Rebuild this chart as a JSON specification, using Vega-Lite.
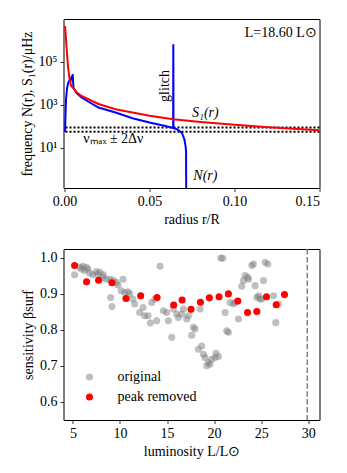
{
  "$schema": "https://vega.github.io/schema/vega-lite/v6.json",
  "padding": {"left": 19.5, "top": 18, "right": 5, "bottom": 5},
  "background": "white",
  "config": {
    "font": "Liberation Serif",
    "view": {"stroke": "black", "strokeWidth": 1},
    "axis": {
      "domain": false, "grid": false, "ticks": true, "tickColor": "black", "tickSize": 3.5, "tickWidth": 0.8,
      "labelColor": "black", "titleColor": "black", "labelFontSize": 14, "titleFontSize": 14,
      "titleFontWeight": "normal", "labelPadding": 3, "labelFont": "Liberation Serif", "titleFont": "Liberation Serif"
    },
    "legend": {"labelFont": "Liberation Serif", "labelFontSize": 14, "labelColor": "black"}
  },
  "datasets": {
    "freq": [
      {"curve": "N", "i": 1, "r": 0.0003, "v": 55},
      {"curve": "N", "i": 2, "r": 0.0006, "v": 400},
      {"curve": "N", "i": 3, "r": 0.0009, "v": 1900},
      {"curve": "N", "i": 4, "r": 0.0015, "v": 6000},
      {"curve": "N", "i": 5, "r": 0.0022, "v": 11000},
      {"curve": "N", "i": 6, "r": 0.0038, "v": 18000},
      {"curve": "N", "i": 7, "r": 0.0043, "v": 15000},
      {"curve": "N", "i": 8, "r": 0.0048, "v": 27000},
      {"curve": "N", "i": 9, "r": 0.0053, "v": 6000},
      {"curve": "N", "i": 10, "r": 0.007, "v": 3600},
      {"curve": "N", "i": 11, "r": 0.01, "v": 2200},
      {"curve": "N", "i": 12, "r": 0.02, "v": 750},
      {"curve": "N", "i": 13, "r": 0.03, "v": 440},
      {"curve": "N", "i": 14, "r": 0.04, "v": 240},
      {"curve": "N", "i": 15, "r": 0.05, "v": 150},
      {"curve": "N", "i": 16, "r": 0.06, "v": 100},
      {"curve": "N", "i": 17, "r": 0.0639, "v": 84},
      {"curve": "N", "i": 18, "r": 0.064, "v": 660000},
      {"curve": "N", "i": 19, "r": 0.0641, "v": 82},
      {"curve": "N", "i": 20, "r": 0.066, "v": 74},
      {"curve": "N", "i": 21, "r": 0.069, "v": 51},
      {"curve": "N", "i": 22, "r": 0.0705, "v": 25},
      {"curve": "N", "i": 23, "r": 0.0712, "v": 12},
      {"curve": "N", "i": 24, "r": 0.0715, "v": 7},
      {"curve": "N", "i": 25, "r": 0.0716, "v": 0.05},
      {"curve": "S1", "i": 1, "r": 0.0003, "v": 4700000},
      {"curve": "S1", "i": 2, "r": 0.0013, "v": 390000},
      {"curve": "S1", "i": 3, "r": 0.002, "v": 65000},
      {"curve": "S1", "i": 4, "r": 0.0028, "v": 20000},
      {"curve": "S1", "i": 5, "r": 0.0038, "v": 8000},
      {"curve": "S1", "i": 6, "r": 0.005, "v": 6300},
      {"curve": "S1", "i": 7, "r": 0.007, "v": 4000},
      {"curve": "S1", "i": 8, "r": 0.01, "v": 2600},
      {"curve": "S1", "i": 9, "r": 0.02, "v": 1100},
      {"curve": "S1", "i": 10, "r": 0.03, "v": 630},
      {"curve": "S1", "i": 11, "r": 0.04, "v": 440},
      {"curve": "S1", "i": 12, "r": 0.05, "v": 310},
      {"curve": "S1", "i": 13, "r": 0.064, "v": 215},
      {"curve": "S1", "i": 14, "r": 0.08, "v": 160},
      {"curve": "S1", "i": 15, "r": 0.1, "v": 117},
      {"curve": "S1", "i": 16, "r": 0.12, "v": 90},
      {"curve": "S1", "i": 17, "r": 0.15, "v": 66}
    ],
    "numax": [{"bound": "upper", "v": 88}, {"bound": "lower", "v": 56}],
    "sens": [
      {"series": "original", "L": 5.18, "beta": 0.953},
      {"series": "original", "L": 5.74, "beta": 0.974},
      {"series": "original", "L": 5.92, "beta": 0.969},
      {"series": "original", "L": 6.06, "beta": 0.977},
      {"series": "original", "L": 6.42, "beta": 0.974},
      {"series": "original", "L": 6.24, "beta": 0.965},
      {"series": "original", "L": 6.6, "beta": 0.969},
      {"series": "original", "L": 6.77, "beta": 0.958},
      {"series": "original", "L": 7.13, "beta": 0.953},
      {"series": "original", "L": 7.48, "beta": 0.962},
      {"series": "original", "L": 7.66, "beta": 0.955},
      {"series": "original", "L": 7.87, "beta": 0.96},
      {"series": "original", "L": 8.19, "beta": 0.946},
      {"series": "original", "L": 8.23, "beta": 0.953},
      {"series": "original", "L": 8.55, "beta": 0.941},
      {"series": "original", "L": 8.94, "beta": 0.941},
      {"series": "original", "L": 9.29, "beta": 0.938},
      {"series": "original", "L": 9.61, "beta": 0.932},
      {"series": "original", "L": 9.79, "beta": 0.925},
      {"series": "original", "L": 10.32, "beta": 0.941},
      {"series": "original", "L": 9.01, "beta": 0.89},
      {"series": "original", "L": 9.15, "beta": 0.865},
      {"series": "original", "L": 10.14, "beta": 0.909},
      {"series": "original", "L": 10.5, "beta": 0.904},
      {"series": "original", "L": 10.85, "beta": 0.906},
      {"series": "original", "L": 11.03, "beta": 0.9},
      {"series": "original", "L": 11.38, "beta": 0.886},
      {"series": "original", "L": 11.56, "beta": 0.872},
      {"series": "original", "L": 12.09, "beta": 0.848},
      {"series": "original", "L": 12.45, "beta": 0.862},
      {"series": "original", "L": 12.62, "beta": 0.839},
      {"series": "original", "L": 12.98, "beta": 0.839},
      {"series": "original", "L": 13.23, "beta": 0.819},
      {"series": "original", "L": 13.37, "beta": 0.876},
      {"series": "original", "L": 13.72, "beta": 0.886},
      {"series": "original", "L": 13.9, "beta": 0.825},
      {"series": "original", "L": 14.26, "beta": 0.977},
      {"series": "original", "L": 14.61, "beta": 0.853},
      {"series": "original", "L": 14.96, "beta": 0.848},
      {"series": "original", "L": 15.14, "beta": 0.825},
      {"series": "original", "L": 15.5, "beta": 0.779},
      {"series": "original", "L": 15.67, "beta": 0.858},
      {"series": "original", "L": 16.03, "beta": 0.844},
      {"series": "original", "L": 16.21, "beta": 0.834},
      {"series": "original", "L": 16.56, "beta": 0.844},
      {"series": "original", "L": 16.74, "beta": 0.858},
      {"series": "original", "L": 17.09, "beta": 0.83},
      {"series": "original", "L": 17.27, "beta": 0.839},
      {"series": "original", "L": 17.8, "beta": 0.807},
      {"series": "original", "L": 17.98, "beta": 0.802},
      {"series": "original", "L": 17.62, "beta": 0.785},
      {"series": "original", "L": 18.51, "beta": 0.858},
      {"series": "original", "L": 18.33, "beta": 0.746},
      {"series": "original", "L": 18.69, "beta": 0.755},
      {"series": "original", "L": 18.87, "beta": 0.732},
      {"series": "original", "L": 19.04, "beta": 0.723},
      {"series": "original", "L": 19.22, "beta": 0.7},
      {"series": "original", "L": 19.4, "beta": 0.709},
      {"series": "original", "L": 19.57, "beta": 0.704},
      {"series": "original", "L": 19.75, "beta": 0.718},
      {"series": "original", "L": 20.11, "beta": 0.723},
      {"series": "original", "L": 20.21, "beta": 0.735},
      {"series": "original", "L": 20.46, "beta": 0.726},
      {"series": "original", "L": 20.71, "beta": 1.0},
      {"series": "original", "L": 20.92, "beta": 0.999},
      {"series": "original", "L": 21.17, "beta": 0.848},
      {"series": "original", "L": 21.35, "beta": 0.797},
      {"series": "original", "L": 21.52, "beta": 0.793},
      {"series": "original", "L": 21.7, "beta": 0.876},
      {"series": "original", "L": 22.06, "beta": 0.872},
      {"series": "original", "L": 22.23, "beta": 0.876},
      {"series": "original", "L": 22.59, "beta": 0.83},
      {"series": "original", "L": 22.94, "beta": 0.921},
      {"series": "original", "L": 23.12, "beta": 0.937},
      {"series": "original", "L": 23.3, "beta": 0.951},
      {"series": "original", "L": 23.58, "beta": 0.946},
      {"series": "original", "L": 23.65, "beta": 0.941},
      {"series": "original", "L": 24.01, "beta": 0.979},
      {"series": "original", "L": 24.18, "beta": 0.983},
      {"series": "original", "L": 24.36, "beta": 0.923},
      {"series": "original", "L": 24.54, "beta": 0.89},
      {"series": "original", "L": 24.72, "beta": 0.895},
      {"series": "original", "L": 24.89, "beta": 0.886},
      {"series": "original", "L": 25.07, "beta": 0.886},
      {"series": "original", "L": 25.25, "beta": 0.937},
      {"series": "original", "L": 25.43, "beta": 0.988},
      {"series": "original", "L": 25.71, "beta": 0.983},
      {"series": "original", "L": 26.31, "beta": 0.895},
      {"series": "original", "L": 26.84, "beta": 0.872},
      {"series": "original", "L": 26.56, "beta": 0.82},
      {"series": "peak removed", "L": 5.18, "beta": 0.979},
      {"series": "peak removed", "L": 6.45, "beta": 0.934},
      {"series": "peak removed", "L": 7.73, "beta": 0.938},
      {"series": "peak removed", "L": 9.15, "beta": 0.931},
      {"series": "peak removed", "L": 10.64, "beta": 0.887},
      {"series": "peak removed", "L": 12.2, "beta": 0.895},
      {"series": "peak removed", "L": 13.94, "beta": 0.89},
      {"series": "peak removed", "L": 15.71, "beta": 0.869},
      {"series": "peak removed", "L": 16.6, "beta": 0.883},
      {"series": "peak removed", "L": 17.55, "beta": 0.857},
      {"series": "peak removed", "L": 18.55, "beta": 0.877},
      {"series": "peak removed", "L": 19.5, "beta": 0.889},
      {"series": "peak removed", "L": 20.53, "beta": 0.892},
      {"series": "peak removed", "L": 21.52, "beta": 0.9},
      {"series": "peak removed", "L": 22.52, "beta": 0.88},
      {"series": "peak removed", "L": 23.55, "beta": 0.848},
      {"series": "peak removed", "L": 24.54, "beta": 0.851},
      {"series": "peak removed", "L": 25.57, "beta": 0.892},
      {"series": "peak removed", "L": 26.6, "beta": 0.87},
      {"series": "peak removed", "L": 27.48, "beta": 0.898}
    ],
    "limit": [{"L": 29.9}]
  },
  "resolve": {"legend": {"color": "independent", "opacity": "independent"}},
  "vconcat": [
    {
      "width": 256,
      "height": 169,
      "encoding": {
        "x": {"type": "quantitative", "scale": {"domain": [-0.0006, 0.15], "nice": false, "zero": false},
              "axis": {"title": "radius r/R", "values": [0, 0.05, 0.1, 0.15], "format": ".2f"}},
        "y": {"type": "quantitative", "scale": {"type": "log", "domain": [0.134, 10000000], "nice": false},
              "axis": {"title": "frequency  N(r), S₁(r)/μHz", "values": [10, 1000, 100000],
                       "labelExpr": "datum.value == 10 ? '10¹' : datum.value == 1000 ? '10³' : '10⁵'"}}
      },
      "layer": [
        {
          "data": {"name": "numax"},
          "mark": {"type": "rule", "color": "black", "strokeWidth": 2, "strokeDash": [2, 2]},
          "encoding": {"y": {"field": "v", "type": "quantitative"}}
        },
        {
          "data": {"name": "freq"},
          "transform": [{"filter": "datum.curve == 'N'"}],
          "mark": {"type": "line", "color": "#0000ff", "strokeWidth": 2, "clip": true},
          "encoding": {"x": {"field": "r"}, "y": {"field": "v"}, "order": {"field": "i", "type": "quantitative"}}
        },
        {
          "data": {"name": "freq"},
          "transform": [{"filter": "datum.curve == 'S1'"}],
          "mark": {"type": "line", "color": "#ff0000", "strokeWidth": 2, "clip": true},
          "encoding": {"x": {"field": "r"}, "y": {"field": "v"}, "order": {"field": "i", "type": "quantitative"}}
        },
        {
          "data": {"values": [{"label": "glitch", "r": 0.0591, "v": 7600}]},
          "mark": {"type": "text", "angle": 270, "align": "center", "baseline": "middle", "fontSize": 14, "color": "black"},
          "encoding": {"x": {"field": "r"}, "y": {"field": "v"}, "text": {"field": "label"}}
        },
        {
          "data": {"values": [{"label": "S₁(r)", "r": 0.075, "v": 440}, {"label": "N(r)", "r": 0.0758, "v": 0.48}]},
          "mark": {"type": "text", "align": "left", "baseline": "middle", "fontSize": 14, "fontStyle": "italic", "color": "black"},
          "encoding": {"x": {"field": "r"}, "y": {"field": "v"}, "text": {"field": "label"}}
        },
        {
          "data": {"values": [{"label": "νₘₐₓ ± 2Δν", "r": 0.011, "v": 24.6}]},
          "mark": {"type": "text", "align": "left", "baseline": "middle", "fontSize": 14, "color": "black"},
          "encoding": {"x": {"field": "r"}, "y": {"field": "v"}, "text": {"field": "label"}}
        },
        {
          "data": {"values": [{"label": "L=18.60 L⊙", "r": 0.1484, "v": 2300000}]},
          "mark": {"type": "text", "align": "right", "baseline": "middle", "fontSize": 14, "color": "black"},
          "encoding": {"x": {"field": "r"}, "y": {"field": "v"}, "text": {"field": "label"}}
        }
      ]
    },
    {
      "width": 256,
      "height": 171,
      "encoding": {
        "x": {"type": "quantitative", "scale": {"domain": [4, 31.2], "nice": false, "zero": false},
              "axis": {"title": "luminosity L/L⊙", "values": [5, 10, 15, 20, 25, 30]}},
        "y": {"type": "quantitative", "scale": {"domain": [0.549, 1.025], "nice": false, "zero": false},
              "axis": {"title": "sensitivity βsurf", "values": [0.6, 0.7, 0.8, 0.9, 1.0], "format": ".1f"}}
      },
      "layer": [
        {
          "data": {"name": "sens"},
          "mark": {"type": "circle", "size": 50, "strokeWidth": 0},
          "encoding": {
            "x": {"field": "L"},
            "y": {"field": "beta"},
            "color": {"field": "series", "type": "nominal",
                      "scale": {"domain": ["original", "peak removed"], "range": ["#808080", "#ff0000"]},
                      "legend": {"title": null, "orient": "none", "legendX": 19, "legendY": 121, "symbolSize": 50,
                                 "symbolType": "circle", "labelOffset": 21, "rowPadding": 6, "symbolStrokeWidth": 0}},
            "opacity": {"field": "series", "type": "nominal",
                        "scale": {"domain": ["original", "peak removed"], "range": [0.5, 1]},
                        "legend": {"title": null, "orient": "none", "legendX": 19, "legendY": 121, "symbolSize": 50,
                                   "symbolType": "circle", "labelOffset": 21, "rowPadding": 6, "symbolStrokeWidth": 0}}
          }
        },
        {
          "data": {"name": "limit"},
          "mark": {"type": "rule", "color": "#808080", "strokeWidth": 1.5, "strokeDash": [5.5, 2.4]},
          "encoding": {"x": {"field": "L"}}
        }
      ]
    }
  ],
  "spacing": 20
}
